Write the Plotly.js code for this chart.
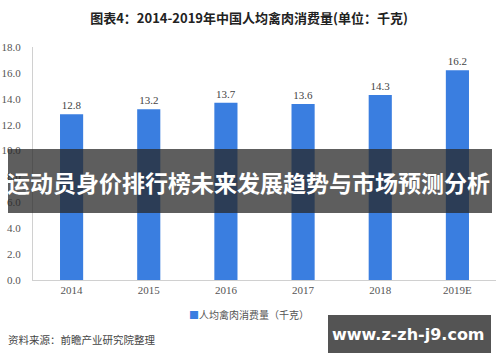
<!DOCTYPE html>
<html>
<head>
<meta charset="utf-8">
<script src="https://cdn.plot.ly/plotly-3.0.1.min.js"></script>
<style>html,body{margin:0;padding:0;background:#fff;}#chart{width:500px;height:362px;}</style>
</head>
<body>
<div id="chart"></div>
<script>
var years = ["2014", "2015", "2016", "2017", "2018", "2019E"];
var consumption = [12.8, 13.2, 13.7, 13.6, 14.3, 16.2];
var seriesName = "人均禽肉消费量（千克）";
var yTickVals = [0, 2, 4, 6, 8, 10, 12, 14, 16, 18];
var yTickText = ["0.0", "2.0", "4.0", "6.0", "8.0", "10.0", "12.0", "14.0", "16.0", "18.0"];
var chartTitle = "图表4：2014-2019年中国人均禽肉消费量(单位：千克)";
var bannerText = "运动员身价排行榜未来发展趋势与市场预测分析";
var sourceText = "资料来源：前瞻产业研究院整理";
var siteText = "www.z-zh-j9.com";

var barColor = "#3a7ee0";
var serif = "Liberation Serif, Times New Roman, serif";
var cjk = "Noto Sans CJK SC, sans-serif";

var trace = {
  type: "bar",
  x: years,
  y: consumption,
  name: seriesName,
  marker: {color: barColor},
  text: consumption.map(function(v){ return v.toFixed(1); }),
  textposition: "outside",
  cliponaxis: false,
  textfont: {family: serif, size: 11, color: "#444"},
  hoverinfo: "x+y"
};

var layout = {
  width: 500,
  height: 362,
  margin: {l: 33, r: 4, t: 47, b: 82},
  paper_bgcolor: "#fff",
  plot_bgcolor: "#fff",
  showlegend: false,
  bargap: 0.7,
  title: {text: chartTitle, x: 0.498, xanchor: "center", y: 0.95, yanchor: "middle",
          font: {family: cjk, size: 13, color: "#222", weight: "bold"}},
  xaxis: {
    type: "category",
    showline: true, linecolor: "#d0d0d0", linewidth: 1,
    ticks: "", showgrid: false,
    tickfont: {family: serif, size: 11, color: "#555"}
  },
  yaxis: {
    range: [0, 18],
    tickvals: yTickVals, ticktext: yTickText,
    showline: true, linecolor: "#d0d0d0", linewidth: 1,
    showgrid: false, zeroline: false, ticks: "",
    ticklabelstandoff: 9,
    tickfont: {family: serif, size: 11, color: "#555"}
  },
  shapes: [
    {type: "rect", xref: "paper", yref: "paper", layer: "above",
     x0: -25/463, x1: 459/463, y0: (362-82-213)/233, y1: (362-82-149)/233,
     fillcolor: "rgba(40,40,40,0.75)", line: {width: 0}},
    {type: "rect", xref: "paper", yref: "paper", layer: "above",
     x0: (328-33)/463, x1: (491-33)/463, y0: -(353-280)/233, y1: -(315-280)/233,
     fillcolor: "rgba(75,75,75,0.95)", line: {width: 0}}
  ],
  annotations: [
    {xref: "paper", yref: "paper", x: (249-33)/463, y: -(314-280)/233, showarrow: false,
     xanchor: "center", yanchor: "middle",
     text: "<span style='color:" + barColor + "'>■</span>" + seriesName,
     font: {family: cjk, size: 10, color: "#555"}},
    {xref: "paper", yref: "paper", x: -27/463, y: -(339-280)/233, showarrow: false,
     xanchor: "left", yanchor: "middle", text: sourceText,
     font: {family: cjk, size: 10.5, color: "#444"}},
    {xref: "paper", yref: "paper", x: (248-33)/463, y: (280-182)/233, showarrow: false,
     xanchor: "center", yanchor: "middle", text: "<b>" + bannerText + "</b>",
     font: {family: cjk, size: 23, color: "#fff"}},
    {xref: "paper", yref: "paper", x: (408-33)/463, y: -(334-280)/233, showarrow: false,
     xanchor: "center", yanchor: "middle", text: "<b>" + siteText + "</b>",
     font: {family: "DejaVu Sans, sans-serif", size: 16, color: "#fff"}}
  ]
};

Plotly.newPlot("chart", [trace], layout, {displayModeBar: false, staticPlot: true});
</script>
</body>
</html>
